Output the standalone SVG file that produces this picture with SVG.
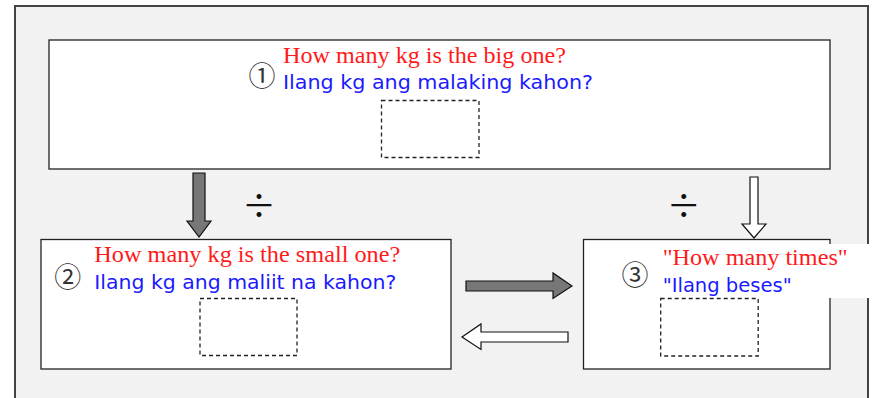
<svg xmlns="http://www.w3.org/2000/svg" width="875" height="398" viewBox="0 0 875 398">
<style>
.box{fill:#fff;stroke:#222;stroke-width:1.3}
.dash{fill:#fff;stroke:#222;stroke-width:1.3;stroke-dasharray:4 3}
.red{font-family:"Liberation Serif",serif;font-size:23px;fill:#ff1a1a}
.blue{font-family:"DejaVu Sans",sans-serif;font-size:20px;fill:#1a1aff}
.num{font-family:"Noto Sans CJK JP","DejaVu Sans",sans-serif;font-size:27px;fill:#333}
.div{font-family:"Noto Sans CJK JP","DejaVu Sans",sans-serif;font-size:34px;fill:#111}
.ga{fill:#777;stroke:#111;stroke-width:1.2}
.wa{fill:#fff;stroke:#111;stroke-width:1.2}
</style>
<rect x="15" y="6" width="853" height="420" fill="#f2f2f2" stroke="#444" stroke-width="2"/>
<g id="node1">
<rect class="box" x="49" y="40" width="781" height="129"/>
<text class="num" x="262" y="74" text-anchor="middle" dominant-baseline="central">①</text>
<text class="red" x="283" y="63" textLength="283" lengthAdjust="spacingAndGlyphs">How many kg is the big one?</text>
<text class="blue" x="283" y="89" textLength="310" lengthAdjust="spacingAndGlyphs">Ilang kg ang malaking kahon?</text>
<rect class="dash" x="381.5" y="100.5" width="97.5" height="57"/>
</g>
<g id="node2">
<rect class="box" x="41" y="239.5" width="410" height="129.5"/>
<text class="num" x="67.7" y="275.7" text-anchor="middle" dominant-baseline="central">②</text>
<text class="red" x="94.3" y="262.3" textLength="306" lengthAdjust="spacingAndGlyphs">How many kg is the small one?</text>
<text class="blue" x="94.3" y="289" textLength="302" lengthAdjust="spacingAndGlyphs">Ilang kg ang maliit na kahon?</text>
<rect class="dash" x="200" y="298.5" width="97" height="57"/>
</g>
<g id="node3">
<rect class="box" x="583.5" y="239.5" width="246.5" height="129.5"/>
<rect x="655" y="244" width="214" height="54" fill="#fff"/>
<text class="num" x="635" y="273.3" text-anchor="middle" dominant-baseline="central">③</text>
<text class="red" x="662.7" y="265" textLength="185" lengthAdjust="spacingAndGlyphs">"How many times"</text>
<text class="blue" x="662.7" y="291.7" textLength="129" lengthAdjust="spacingAndGlyphs">"Ilang beses"</text>
<rect class="dash" x="660.7" y="298.5" width="97.5" height="57.5"/>
</g>
<g id="connectors">
<polygon class="ga" points="193,173 205,173 205,221 211,221 199,237 187,221 193,221"/>
<polygon class="wa" points="750,177 758,177 758,224 766,224 754,238 742,224 750,224"/>
<polygon class="ga" points="466,281 553,281 553,273 572,286 553,298.5 553,291 466,291"/>
<polygon class="wa" points="568,332 481,332 481,324 462,337 481,349.5 481,342 568,342"/>
<text class="div" x="259" y="203" text-anchor="middle" dominant-baseline="central">÷</text>
<text class="div" x="683.7" y="203" text-anchor="middle" dominant-baseline="central">÷</text>
</g>
</svg>
